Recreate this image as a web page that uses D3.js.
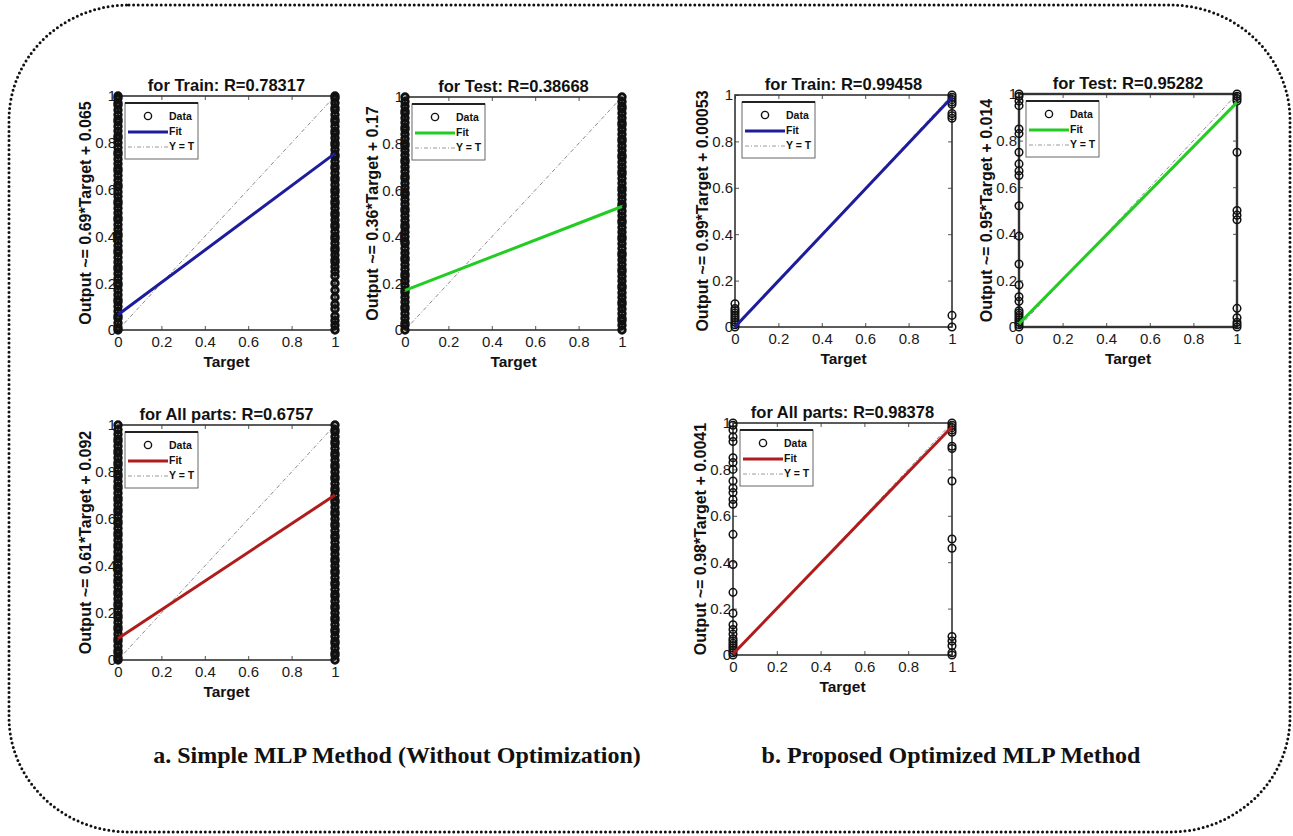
<!DOCTYPE html>
<html>
<head>
<meta charset="utf-8">
<script src="https://cdn.jsdelivr.net/npm/d3@7"></script>
<style>
  body { margin: 0; background: #fff; }
  svg { display: block; }
</style>
</head>
<body>
<div id="chart"></div>
<script>
// axis ticks shared by every panel
const tickValues = [0, 0.2, 0.4, 0.6, 0.8, 1];
const tickLabels = ["0", "0.2", "0.4", "0.6", "0.8", "1"];

const legendLabels = ["Data", "Fit", "Y = T"];
const captions = ["a. Simple MLP Method (Without Optimization)", "b. Proposed Optimized MLP Method"];

// panel titles, y-axis labels and fit coefficients
const titles = ["for Train: R=0.78317", "for Test: R=0.38668", "for All parts: R=0.6757",
                "for Train: R=0.99458", "for Test: R=0.95282", "for All parts: R=0.98378"];
const yLabels = ["Output ~= 0.69*Target + 0.065", "Output ~= 0.36*Target + 0.17", "Output ~= 0.61*Target + 0.092",
                 "Output ~= 0.99*Target + 0.00053", "Output ~= 0.95*Target + 0.014", "Output ~= 0.98*Target + 0.0041"];
const fitSlope     = [0.69, 0.36, 0.61, 0.99, 0.95, 0.98];
const fitIntercept = [0.065, 0.17, 0.092, 0.00053, 0.014, 0.0041];
const fitColors = ["#1c1c9c", "#22cc22", "#b01c1c", "#1c1c9c", "#22cc22", "#b01c1c"];

// outputs, at target 0 and target 1
const trainA_t0 = [0.00,0.01,0.03,0.05,0.06,0.08,0.10,0.12,0.13,0.15,0.17,0.19,0.20,0.22,0.24,0.26,0.27,0.29,0.31,0.33,0.34,0.36,0.38,0.40,0.41,0.43,0.45,0.47,0.48,0.50,0.52,0.54,0.55,0.57,0.59,0.61,0.62,0.64,0.66,0.68,0.69,0.71,0.73,0.75,0.76,0.78,0.80,0.82,0.83,0.85,0.87,0.89,0.90,0.92,0.94,0.96,0.97,0.99,1.00];
const trainA_t1 = [0.00,0.02,0.04,0.06,0.09,0.11,0.14,0.17,0.20,0.23,0.25,0.27,0.29,0.30,0.32,0.34,0.35,0.37,0.39,0.40,0.42,0.44,0.45,0.47,0.49,0.50,0.52,0.54,0.55,0.57,0.59,0.60,0.62,0.64,0.65,0.67,0.69,0.70,0.72,0.74,0.75,0.77,0.79,0.80,0.82,0.84,0.85,0.87,0.89,0.90,0.92,0.94,0.95,0.97,0.99,1.00];
const testA_t0  = [0.00,0.02,0.03,0.05,0.07,0.09,0.10,0.12,0.14,0.16,0.17,0.19,0.21,0.23,0.24,0.26,0.28,0.30,0.31,0.33,0.35,0.37,0.38,0.40,0.42,0.44,0.45,0.47,0.49,0.51,0.52,0.54,0.56,0.58,0.59,0.61,0.63,0.65,0.66,0.68,0.70,0.72,0.73,0.75,0.77,0.79,0.80,0.82,0.84,0.86,0.87,0.89,0.91,0.93,0.94,0.96,0.98,1.00];
const testA_t1  = [0.00,0.02,0.04,0.05,0.07,0.09,0.11,0.12,0.14,0.16,0.18,0.19,0.21,0.23,0.25,0.26,0.28,0.30,0.32,0.33,0.35,0.37,0.39,0.40,0.42,0.44,0.46,0.47,0.49,0.51,0.53,0.54,0.56,0.58,0.60,0.61,0.63,0.65,0.67,0.68,0.70,0.72,0.74,0.75,0.77,0.79,0.81,0.82,0.84,0.86,0.88,0.89,0.91,0.93,0.95,0.96,0.98,1.00];
const allA_t0   = [0.00,0.01,0.03,0.04,0.06,0.08,0.09,0.11,0.13,0.14,0.16,0.18,0.19,0.21,0.23,0.24,0.26,0.28,0.29,0.31,0.33,0.34,0.36,0.38,0.39,0.41,0.43,0.44,0.46,0.48,0.49,0.51,0.53,0.54,0.56,0.58,0.59,0.61,0.63,0.64,0.66,0.68,0.69,0.71,0.73,0.74,0.76,0.78,0.79,0.81,0.83,0.84,0.86,0.88,0.89,0.91,0.93,0.94,0.96,0.98,1.00];
const allA_t1   = [0.00,0.02,0.03,0.05,0.07,0.08,0.10,0.12,0.13,0.15,0.17,0.18,0.20,0.22,0.23,0.25,0.27,0.28,0.30,0.32,0.33,0.35,0.37,0.38,0.40,0.42,0.43,0.45,0.47,0.48,0.50,0.52,0.53,0.55,0.57,0.58,0.60,0.62,0.63,0.65,0.67,0.68,0.70,0.72,0.73,0.75,0.77,0.78,0.80,0.82,0.83,0.85,0.87,0.88,0.90,0.92,0.93,0.95,0.97,0.98,1.00];
const trainB_t0 = [0.00,0.01,0.02,0.03,0.04,0.05,0.06,0.07,0.08,0.10];
const trainB_t1 = [0.00,0.05,0.90,0.91,0.92,0.96,0.97,0.98,0.99,1.00];
const testB_t0  = [0.00,0.01,0.02,0.03,0.04,0.05,0.06,0.07,0.11,0.13,0.18,0.27,0.39,0.52,0.65,0.67,0.70,0.75,0.83,0.85,0.95,0.97,0.99,1.00];
const testB_t1  = [0.00,0.01,0.02,0.04,0.08,0.46,0.48,0.50,0.75,0.97,0.98,0.99,1.00];
const allB_t0   = [0.00,0.01,0.02,0.03,0.04,0.05,0.06,0.07,0.09,0.11,0.13,0.18,0.27,0.39,0.52,0.65,0.67,0.70,0.72,0.75,0.80,0.83,0.85,0.92,0.94,0.97,0.99,1.00];
const allB_t1   = [0.00,0.01,0.04,0.06,0.08,0.46,0.50,0.75,0.89,0.90,0.96,0.97,0.98,0.99,1.00];

const panelData = [
  [trainA_t0, trainA_t1], [testA_t0, testA_t1], [allA_t0, allA_t1],
  [trainB_t0, trainB_t1], [testB_t0, testB_t1], [allB_t0, allB_t1]
];

// plot-box placement of each panel on the page; dense = heavy marker columns
const boxes = [
  {x: 118, y: 96, w: 217, h: 234, dense: true},
  {x: 405, y: 97, w: 217, h: 233, dense: true},
  {x: 118, y: 425, w: 217, h: 235, dense: true},
  {x: 735, y: 95, w: 217, h: 232, dense: false},
  {x: 1019, y: 94, w: 218, h: 233, dense: false},
  {x: 733, y: 423, w: 219, h: 232, dense: false}
];

const width = 1293, height = 836;
const svg = d3.select("#chart").append("svg")
  .attr("width", width)
  .attr("height", height);

// dotted rounded frame around everything
svg.append("rect")
  .attr("x", 9).attr("y", 5)
  .attr("width", 1281).attr("height", 827)
  .attr("rx", 120).attr("ry", 115)
  .attr("fill", "none")
  .attr("stroke", "#111")
  .attr("stroke-width", 3)
  .attr("stroke-linecap", "round")
  .attr("stroke-dasharray", "0 4.6");

const sans = "Liberation Sans, Arial, sans-serif";

function drawPanel(i) {
  const b = boxes[i];
  const g = svg.append("g").attr("transform", `translate(${b.x},${b.y})`);

  const x = d3.scaleLinear().domain([0, 1]).range([0, b.w]);
  const y = d3.scaleLinear().domain([0, 1]).range([b.h, 0]);

  // axes, MATLAB-like inward ticks on all four sides
  const fmt = (d, k) => tickLabels[k];
  const axB = g.append("g").attr("transform", `translate(0,${b.h})`)
    .call(d3.axisBottom(x).tickValues(tickValues).tickFormat(fmt).tickSizeInner(-4).tickSizeOuter(0).tickPadding(6));
  const axL = g.append("g")
    .call(d3.axisLeft(y).tickValues(tickValues).tickFormat(fmt).tickSizeInner(-4).tickSizeOuter(0).tickPadding(2));
  const axT = g.append("g")
    .call(d3.axisTop(x).tickValues(tickValues).tickFormat("").tickSizeInner(-4).tickSizeOuter(0));
  const axR = g.append("g").attr("transform", `translate(${b.w},0)`)
    .call(d3.axisRight(y).tickValues(tickValues).tickFormat("").tickSizeInner(-4).tickSizeOuter(0));
  [axB, axL, axT, axR].forEach(a => {
    a.select(".domain").remove();
    a.selectAll(".tick line").attr("stroke", "#555");
    a.selectAll("text")
      .attr("font-family", sans)
      .attr("font-size", 15)
      .attr("fill", "#1a1a1a");
  });

  g.append("rect")
    .attr("width", b.w).attr("height", b.h)
    .attr("fill", "none")
    .attr("stroke", "#333")
    .attr("stroke-width", i === 4 ? 2.4 : 1.6);

  // Y = T reference
  g.append("line")
    .attr("x1", x(0)).attr("y1", y(0))
    .attr("x2", x(1)).attr("y2", y(1))
    .attr("stroke", "#8a8a8a")
    .attr("stroke-width", 1)
    .attr("stroke-dasharray", "4 2 1 2");

  // data circles
  const pts = [];
  panelData[i][0].forEach(v => pts.push({t: 0, o: v}));
  panelData[i][1].forEach(v => pts.push({t: 1, o: v}));
  g.selectAll("circle.pt")
    .data(pts)
    .join("circle")
      .attr("class", "pt")
      .attr("cx", d => x(d.t))
      .attr("cy", d => y(d.o))
      .attr("r", b.dense ? 3.2 : 3.8)
      .attr("fill", "none")
      .attr("stroke", "#111")
      .attr("stroke-width", b.dense ? 3 : 1.5);

  // fit line
  const fit = t => fitSlope[i] * t + fitIntercept[i];
  g.append("line")
    .attr("x1", x(0)).attr("y1", y(fit(0)))
    .attr("x2", x(1)).attr("y2", y(fit(1)))
    .attr("stroke", fitColors[i])
    .attr("stroke-width", 3);

  // title and labels
  g.append("text")
    .attr("x", b.w / 2).attr("y", -5)
    .attr("text-anchor", "middle")
    .attr("font-family", sans)
    .attr("font-weight", "bold")
    .attr("font-size", 16.5)
    .attr("fill", "#111")
    .text(titles[i]);

  g.append("text")
    .attr("x", b.w / 2).attr("y", b.h + 37)
    .attr("text-anchor", "middle")
    .attr("font-family", sans)
    .attr("font-weight", "bold")
    .attr("font-size", 15.5)
    .attr("fill", "#111")
    .text("Target");

  g.append("text")
    .attr("transform", `translate(-27,${b.h / 2}) rotate(-90)`)
    .attr("text-anchor", "middle")
    .attr("font-family", sans)
    .attr("font-weight", "bold")
    .attr("font-size", 16)
    .attr("fill", "#111")
    .text(yLabels[i]);

  // legend
  const lg = g.append("g").attr("transform", "translate(7,7)");
  lg.append("rect")
    .attr("width", 73).attr("height", 56)
    .attr("fill", "#fff")
    .attr("stroke", "#666")
    .attr("stroke-width", 1);
  lg.append("line")
    .attr("x1", 0).attr("x2", 73).attr("y1", 0).attr("y2", 0)
    .attr("stroke", "#222").attr("stroke-width", 2);
  lg.append("circle")
    .attr("cx", 23).attr("cy", 13).attr("r", 3.6)
    .attr("fill", "none").attr("stroke", "#111").attr("stroke-width", 1.4);
  lg.append("line")
    .attr("x1", 3).attr("x2", 43).attr("y1", 29).attr("y2", 29)
    .attr("stroke", fitColors[i]).attr("stroke-width", 3);
  lg.append("line")
    .attr("x1", 3).attr("x2", 43).attr("y1", 44).attr("y2", 44)
    .attr("stroke", "#9a9a9a").attr("stroke-width", 1)
    .attr("stroke-dasharray", "4 2 1 2");
  lg.selectAll("text.lab")
    .data(legendLabels)
    .join("text")
      .attr("class", "lab")
      .attr("x", 44)
      .attr("y", (d, k) => 17 + k * 15)
      .attr("font-family", sans)
      .attr("font-weight", "bold")
      .attr("font-size", 10.5)
      .attr("fill", "#111")
      .text(d => d);
}

boxes.forEach((b, i) => drawPanel(i));

// captions under each group
svg.selectAll("text.caption")
  .data(captions)
  .join("text")
    .attr("class", "caption")
    .attr("x", (d, i) => i === 0 ? 397 : 951)
    .attr("y", 763)
    .attr("text-anchor", "middle")
    .attr("font-family", "Liberation Serif, Times New Roman, serif")
    .attr("font-weight", "bold")
    .attr("font-size", 24)
    .attr("fill", "#111")
    .text(d => d);
</script>
</body>
</html>
